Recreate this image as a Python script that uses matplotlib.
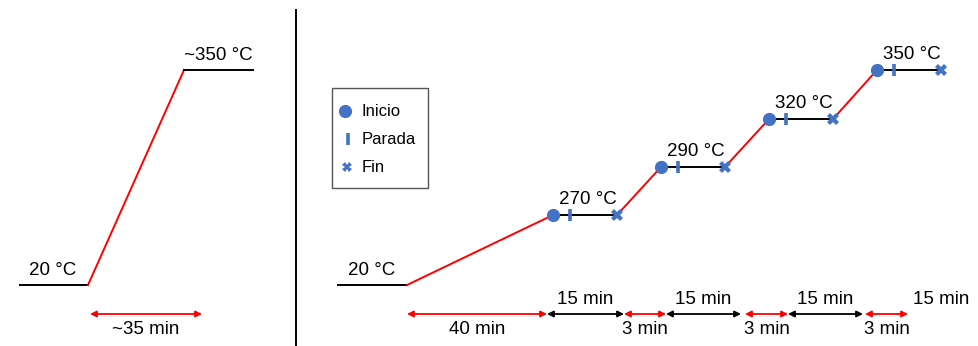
import matplotlib
matplotlib.use("Agg")
import matplotlib.pyplot as plt
from matplotlib.patches import Rectangle

plt.rcParams['font.family'] = ['Liberation Sans', 'DejaVu Sans']

# ---- data ----
left_labels = ["20 °C", "~350 °C"]
left_ramp_label = "~35 min"
start_label = "20 °C"
step_temps = [270, 290, 320, 350]
ramp_times = [40, 3, 3, 3]
hold_times = [15, 15, 15, 15]
legend_labels = ["Inicio", "Parada", "Fin"]

# ---- layout (pixel coordinates, schematic) ----
W, H = 979, 346
BLUE = "#4472C4"
RED = "#FF0000"
FS = 13.5

fig = plt.figure(figsize=(W / 100, H / 100), dpi=100)
ax = fig.add_axes([0, 0, 1, 1])
ax.set_xlim(0, W)
ax.set_ylim(H, 0)
ax.axis("off")

def arrow(x0, x1, y, color, heads="<|-|>"):
    ax.annotate("", xy=(x1, y), xytext=(x0, y),
                arrowprops=dict(arrowstyle=heads, color=color, lw=1.3,
                                mutation_scale=9, shrinkA=0, shrinkB=0))

# ---- left panel ----
ax.plot([20, 88], [285, 285], color="black", lw=1.4)
ax.plot([88, 184], [285, 70], color=RED, lw=1.4)
ax.plot([184, 253], [70, 70], color="black", lw=1.4)
ax.text(53, 279, left_labels[0], fontsize=FS, ha="center", va="bottom")
ax.text(218, 64, left_labels[1], fontsize=FS, ha="center", va="bottom")
arrow(90, 202, 314, RED)
ax.text(146, 321, left_ramp_label, fontsize=FS, ha="center", va="top")

# divider
ax.plot([296, 296], [10, H], color="black", lw=1.4)

# ---- right panel ----
ax.plot([338, 407], [285, 285], color="black", lw=1.4)
ax.text(372, 279, start_label, fontsize=FS, ha="center", va="bottom")

step_y = [215, 167, 119, 70]
step_x0 = [553, 661, 769, 877]
hold_len = 64
bar_off = 17

prev = (407, 285)
for T, x0, y in zip(step_temps, step_x0, step_y):
    ax.plot([prev[0], x0], [prev[1], y], color=RED, lw=1.4, zorder=2)
    x1 = x0 + hold_len
    ax.plot([x0, x1], [y, y], color="black", lw=1.4, zorder=2)
    ax.plot([x0], [y], marker="o", ms=8.5, color=BLUE, mec=BLUE, zorder=3)
    ax.plot([x0 + bar_off], [y], marker="|", ms=8, mew=2.6, color=BLUE, zorder=3)
    ax.plot([x1], [y], marker="X", ms=8, color=BLUE, mec=BLUE, mew=0, zorder=3)
    ax.text(x0 + 35, y - 7, f"{T} °C", fontsize=FS, ha="center", va="bottom")
    prev = (x1, y)

# time arrows
ay = 314
ramp_spans = [(407, 547), (624, 666), (745, 788), (865, 908)]
hold_spans = [(547, 624), (666, 741), (788, 863), (908, 990)]
for t, (a, b) in zip(ramp_times, ramp_spans):
    arrow(a, b, ay, RED)
    ax.text((a + b) / 2, ay + 7, f"{t} min", fontsize=FS, ha="center", va="top")
for i, (t, (a, b)) in enumerate(zip(hold_times, hold_spans)):
    arrow(a, b, ay, "black")
    cx = (a + b) / 2 if i < 3 else 941
    ax.text(cx, ay - 6, f"{t} min", fontsize=FS, ha="center", va="bottom")

# ---- legend box ----
ax.add_patch(Rectangle((332, 88), 96, 100, fill=False, ec="#555555", lw=1.0))
ax.plot([345], [111], marker="o", ms=8.5, color=BLUE)
ax.plot([348], [139], marker="|", ms=8, mew=2.6, color=BLUE)
ax.plot([347], [167], marker="X", ms=7, color=BLUE, mew=0)
for lab, y in zip(legend_labels, [111, 139, 167]):
    ax.text(362, y, lab, fontsize=12, ha="left", va="center")

fig.savefig("out.png", dpi=100)
